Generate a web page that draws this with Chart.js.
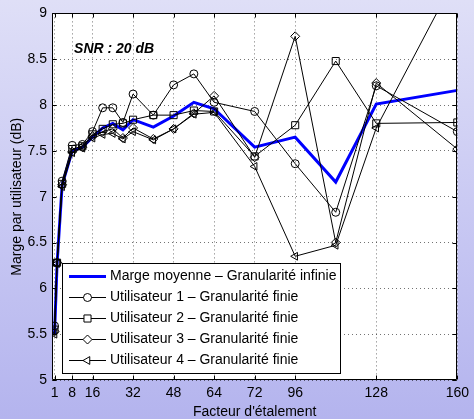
<!DOCTYPE html>
<html>
<head>
<meta charset="utf-8">
<script src="https://cdn.jsdelivr.net/npm/chart.js@4/dist/chart.umd.min.js"></script>
<style>
html,body{margin:0;padding:0;}
body{width:474px;height:419px;overflow:hidden;background:linear-gradient(to bottom,#dfdff7 0%,#c9c9f3 50%,#b4b4ee 100%);}
canvas{display:block;}
</style>
</head>
<body>
<canvas id="c" width="474" height="419"></canvas>
<script>
// ---- data ----
const spreadingFactors = [1, 2, 4, 8, 12, 16, 20, 24, 28, 32, 40, 48, 56, 64, 80, 96, 112, 128, 160];
const meanMargin = [5.50, 6.27, 7.13, 7.50, 7.54, 7.65, 7.75, 7.80, 7.73, 7.84, 7.76, 7.88, 8.03, 7.96, 7.54, 7.65, 7.16, 8.01, 8.16];
const user1Margin = [5.59, 6.28, 7.17, 7.56, 7.57, 7.71, 7.97, 7.97, 7.81, 8.12, 7.89, 8.22, 8.34, 8.03, 7.93, 7.36, 6.83, 8.21, 7.71];
const user2Margin = [5.55, 6.28, 7.14, 7.52, 7.55, 7.68, 7.74, 7.79, 7.80, 7.84, 7.89, 7.89, 7.94, 7.93, 7.44, 7.78, 8.48, 7.80, 7.81];
const user3Margin = [5.53, 6.28, 7.13, 7.49, 7.54, 7.66, 7.71, 7.74, 7.64, 7.75, 7.63, 7.74, 7.91, 8.10, 7.43, 8.75, 6.50, 8.24, 7.52];
const user4Margin = [5.50, 6.27, 7.11, 7.48, 7.53, 7.64, 7.68, 7.69, 7.63, 7.71, 7.62, 7.74, 7.90, 7.92, 7.33, 6.35, 6.47, 7.75, 9.43];
const xTickValues = [1, 8, 16, 32, 48, 64, 80, 96, 128, 160];
const xTickLabels = ['1', '8', '16', '32', '48', '64', '72', '96', '128', '160'];
const seriesLabels = [
  'Marge moyenne \u2013 Granularit\u00e9 infinie',
  'Utilisateur 1 \u2013 Granularit\u00e9 finie',
  'Utilisateur 2 \u2013 Granularit\u00e9 finie',
  'Utilisateur 3 \u2013 Granularit\u00e9 finie',
  'Utilisateur 4 \u2013 Granularit\u00e9 finie'
];
const xTitle = "Facteur d'\u00e9talement";
const yTitle = 'Marge par utilisateur (dB)';
const annotationText = 'SNR : 20 dB';

// ---- styling ----
const FONT = "'Liberation Sans', Arial, Helvetica, sans-serif";
Chart.defaults.font.family = FONT;
Chart.defaults.font.size = 14;
Chart.defaults.color = '#000';

const toXY = arr => arr.map((v, i) => ({x: spreadingFactors[i], y: v}));

function userDataset(label, data, style, radius, rotation, order) {
  return {
    label, data: toXY(data), order,
    borderColor: '#000', borderWidth: 1,
    pointStyle: style, pointRadius: radius, pointRotation: rotation,
    pointBorderColor: '#000', pointBackgroundColor: 'rgba(0,0,0,0)', pointBorderWidth: 1,
    pointHoverRadius: radius
  };
}

const datasets = [
  {label: seriesLabels[0], data: toXY(meanMargin), order: 10, borderColor: '#0000ff', borderWidth: 3, pointRadius: 0},
  userDataset(seriesLabels[1], user1Margin, 'circle', 4, 0, 4),
  userDataset(seriesLabels[2], user2Margin, 'rect', 5, 0, 3),
  userDataset(seriesLabels[3], user3Margin, 'rectRot', 4.5, 0, 2),
  userDataset(seriesLabels[4], user4Margin, 'triangle', 4.5, -90, 1)
];

function drawMarker(ctx, style, r, rot, x, y) {
  if (Chart.helpers && Chart.helpers.drawPoint) {
    Chart.helpers.drawPoint(ctx, {pointStyle: style, radius: r, rotation: rot, borderWidth: 1}, x, y);
    return;
  }
  ctx.beginPath(); ctx.arc(x, y, r, 0, Math.PI * 2); ctx.stroke();
}

const framePlugin = {
  id: 'matlabFrame',
  beforeDraw(chart) {
    const {ctx, chartArea: a} = chart;
    ctx.save();
    ctx.fillStyle = '#fff';
    ctx.fillRect(a.left, a.top, a.right - a.left, a.bottom - a.top);
    ctx.restore();
  },
  afterDatasetsDraw(chart) {
    const {ctx, chartArea: a, scales: {x, y}} = chart;
    ctx.save();
    ctx.strokeStyle = '#000';
    ctx.lineWidth = 1;
    const L = Math.round(a.left) + 0.5, R = Math.round(a.right) - 0.5;
    const T = Math.round(a.top) + 0.5, B = Math.round(a.bottom) - 0.5;
    ctx.beginPath();
    ctx.rect(L, T, R - L, B - T);
    x.ticks.forEach(t => {
      const px = Math.round(x.getPixelForValue(t.value)) + 0.5;
      ctx.moveTo(px, B); ctx.lineTo(px, B - 4);
      ctx.moveTo(px, T); ctx.lineTo(px, T + 4);
    });
    y.ticks.forEach(t => {
      const py = Math.round(y.getPixelForValue(t.value)) + 0.5;
      ctx.moveTo(L, py); ctx.lineTo(L + 4, py);
      ctx.moveTo(R, py); ctx.lineTo(R - 4, py);
    });
    ctx.stroke();
    // annotation
    ctx.fillStyle = '#000';
    ctx.font = 'italic bold 14px ' + FONT;
    ctx.textAlign = 'left';
    ctx.textBaseline = 'middle';
    ctx.fillText(annotationText, x.getPixelForValue(8.7), y.getPixelForValue(8.61));
    ctx.restore();
  },
  afterDraw(chart) {
    const {ctx} = chart;
    const box = {l: 62.5, t: 263.5, r: 340.5, b: 373.5};
    ctx.save();
    ctx.fillStyle = '#fff';
    ctx.strokeStyle = '#000';
    ctx.lineWidth = 1;
    ctx.fillRect(box.l, box.t, box.r - box.l, box.b - box.t);
    ctx.strokeRect(box.l, box.t, box.r - box.l, box.b - box.t);
    ctx.font = '14px ' + FONT;
    ctx.textAlign = 'left';
    ctx.textBaseline = 'middle';
    const rowY0 = 276, rowStep = 21, x0 = 69, x1 = 106, tx = 110;
    chart.data.datasets.forEach((ds, i) => {
      const yy = rowY0 + i * rowStep + 0.5;
      ctx.strokeStyle = ds.borderColor;
      ctx.lineWidth = ds.borderWidth;
      ctx.beginPath(); ctx.moveTo(x0, yy); ctx.lineTo(x1, yy); ctx.stroke();
      if (ds.pointRadius > 0) {
        ctx.strokeStyle = '#000'; ctx.fillStyle = '#fff'; ctx.lineWidth = 1;
        drawMarker(ctx, ds.pointStyle, ds.pointRadius, ds.pointRotation, (x0 + x1) / 2, yy);
      }
      ctx.fillStyle = '#000';
      ctx.fillText(ds.label, tx, yy);
    });
    ctx.restore();
  }
};

new Chart(document.getElementById('c'), {
  type: 'line',
  data: {datasets},
  plugins: [framePlugin],
  options: {
    responsive: false,
    animation: false,
    devicePixelRatio: 1,
    layout: {padding: {top: 11, right: 12, left: 0, bottom: 0}},
    plugins: {legend: {display: false}, tooltip: {enabled: false}},
    scales: {
      x: {
        type: 'linear', min: 0, max: 160,
        afterBuildTicks: s => { s.ticks = xTickValues.map(v => ({value: v})); },
        afterFit: s => { s.height = 39; },
        ticks: {
          autoSkip: false, maxRotation: 0, padding: 5,
          callback: v => { const i = xTickValues.indexOf(v); return i >= 0 ? xTickLabels[i] : ''; }
        },
        grid: {color: 'rgba(0,0,0,0.55)', lineWidth: 1, drawTicks: false},
        border: {display: false, dash: [1, 3]},
        title: {display: true, text: xTitle, font: {size: 14, lineHeight: 1}, padding: {top: 0, bottom: 0}}
      },
      y: {
        type: 'linear', min: 5, max: 9,
        afterFit: s => { s.width = 52; },
        ticks: {stepSize: 0.5, padding: 5, callback: v => String(v)},
        grid: {color: 'rgba(0,0,0,0.55)', lineWidth: 1, drawTicks: false},
        border: {display: false, dash: [1, 3]},
        title: {display: true, text: yTitle, font: {size: 14, lineHeight: 1}, padding: {top: 10, bottom: 0}}
      }
    }
  }
});
</script>
</body>
</html>
